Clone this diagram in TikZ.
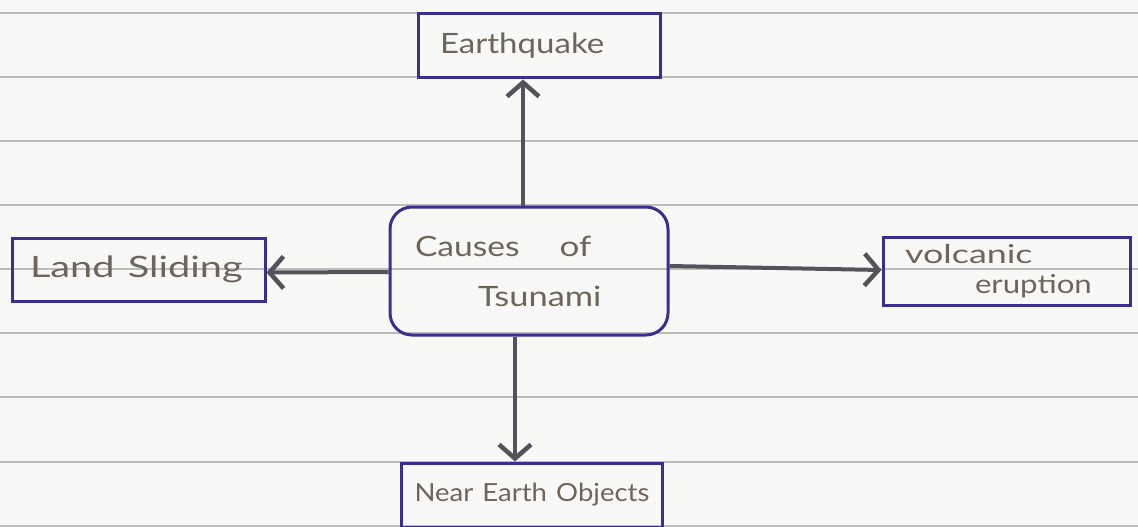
\documentclass[tikz,border=0pt]{standalone}
\usepackage{fontspec}
\setmainfont{Lato}
\usetikzlibrary{arrows.meta}
\definecolor{ink}{HTML}{3A2F90}
\definecolor{pencil}{HTML}{6E665C}
\definecolor{arrowgray}{HTML}{54525A}
\definecolor{rule}{HTML}{BDBDBD}
\definecolor{paper}{HTML}{F8F8F6}
\tikzset{
  box/.style={draw=ink, line width=3pt, text=pencil, align=left, anchor=center, font=\fontsize{28}{50}\selectfont},
  conn/.style={draw=arrowgray, line width=4pt, -{Straight Barb[length=14pt,width=32pt,line width=4.5pt]}},
  ruled/.style={draw=rule, line width=1.3pt}
}
\begin{document}
\begin{tikzpicture}[x=1pt,y=-1pt]
\useasboundingbox (0,0) rectangle (1138,527);
\fill[paper] (0,0) rectangle (1138,527);
\foreach \yy in {13,77,141,205,269,333,397,462,526}
  \draw[ruled] (0,\yy) -- (1138,\yy);
% boxes
\node[box, minimum height=64pt, text width=198pt, inner xsep=22pt, inner ysep=0pt] (eq) at (539,46) {\scalebox{1.18}[1]{Earthquake}};
\node[box, minimum height=63pt, text width=217pt, inner xsep=18pt, inner ysep=0pt] (ls) at (138.5,269.5) {\scalebox{1.42}[1.05]{Land Sliding}};
\node[box, rounded corners=22pt, minimum height=128pt, text width=228pt, inner xsep=25pt, inner ysep=0pt] (c) at (529,271) {\scalebox{1.2}[1]{Causes}\hspace{40pt}\scalebox{1.25}[1]{of}\\\hspace{63pt}\scalebox{1.23}[1]{Tsunami}};
\node[box, minimum height=68pt, text width=203pt, inner xsep=22pt, inner ysep=0pt, font=\fontsize{26}{30}\selectfont] (ve) at (1006.5,271) {\scalebox{1.38}[1]{volcanic}\\\hspace{70pt}\scalebox{1.2}[1]{eruption}};
\node[box, minimum height=64pt, text width=235pt, inner xsep=13pt, inner ysep=0pt, font=\fontsize{25}{30}\selectfont] (ne) at (532,495) {\scalebox{1.1}[1]{Near Earth Objects}};
% connectors
\draw[conn] ([xshift=-6pt]c.north) -- ([xshift=-16pt]eq.south);
\draw[conn] ([yshift=-1pt]c.west) -- ([yshift=-3pt]ls.east);
\draw[conn] ([yshift=5pt]c.east) -- ([yshift=1pt]ve.west);
\draw[conn] ([xshift=-14pt]c.south) -- ([xshift=-17pt]ne.north);
\end{tikzpicture}
\end{document}
